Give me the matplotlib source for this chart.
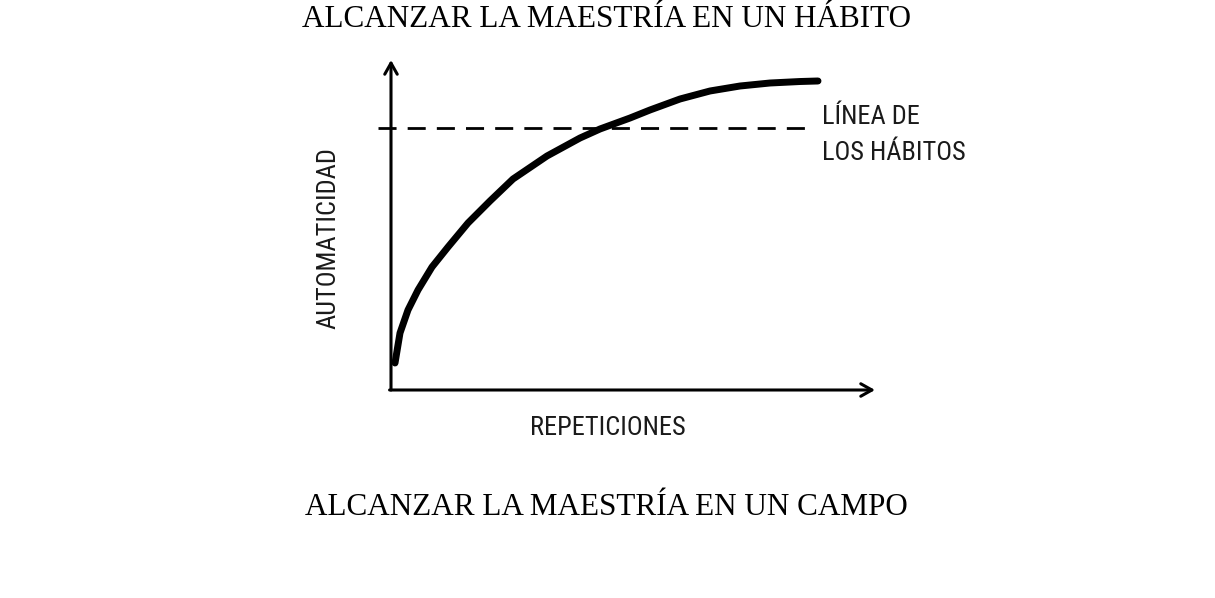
import matplotlib
matplotlib.use("Agg")
import matplotlib.pyplot as plt

# Data (axes units 0-100)
repeticiones = [0.83, 1.86, 3.51, 5.58, 8.47, 11.78, 15.91, 20.45, 25.21, 32.23,
                39.05, 43.18, 49.38, 53.51, 59.71, 65.91, 72.11, 78.31, 84.5, 88.22]
automaticidad = [8.18, 17.27, 24.24, 30.30, 37.27, 43.33, 50.61, 57.27, 63.94, 70.91,
                 76.36, 79.09, 82.42, 84.85, 88.18, 90.61, 92.12, 93.03, 93.48, 93.64]
linea_habitos = 79.4
linea_x = [-2.7, 85.5]

titulo_sup = "ALCANZAR LA MAESTRÍA EN UN HÁBITO"
titulo_inf = "ALCANZAR LA MAESTRÍA EN UN CAMPO"
etiqueta_x = "REPETICIONES"
etiqueta_y = "AUTOMATICIDAD"
etiqueta_linea = ["LÍNEA DE", "LOS HÁBITOS"]

W, H = 1215, 598
fig = plt.figure(figsize=(W / 100, H / 100), dpi=100)
fig.patch.set_facecolor("white")

ax = fig.add_axes([391 / W, (H - 390) / H, (875 - 391) / W, 330 / H])
ax.set_xlim(0, 100)
ax.set_ylim(0, 100)
ax.axis("off")

arrow = dict(arrowstyle="->,head_length=0.8,head_width=0.45", lw=2.2, color="black",
             shrinkA=0, shrinkB=0)
ax.annotate("", xy=(0, 100), xytext=(0, 0), arrowprops=arrow, annotation_clip=False)
ax.annotate("", xy=(100, 0), xytext=(-0.3, 0), arrowprops=arrow, annotation_clip=False)

ax.plot(linea_x, [linea_habitos, linea_habitos], color="black", lw=2.0,
        dashes=(6.5, 4), clip_on=False)
ax.plot(repeticiones, automaticidad, color="black", lw=5, solid_capstyle="round",
        solid_joinstyle="round", clip_on=False)

narrow = ["Roboto Condensed", "Sofia Sans Condensed", "Liberation Sans Narrow",
          "DejaVu Sans"]
serif = ["Liberation Serif", "DejaVu Serif"]
fs_lab = 19
lab_kw = dict(family=narrow, fontsize=fs_lab, fontweight="normal", color="#1a1a1a")

fig.text(822 / W, 1 - 117 / H, etiqueta_linea[0], ha="left", va="center", **lab_kw)
fig.text(822 / W, 1 - 153 / H, etiqueta_linea[1], ha="left", va="center", **lab_kw)
fig.text(608 / W, 1 - 428 / H, etiqueta_x, ha="center", va="center", **lab_kw)
fig.text(328 / W, 1 - 238 / H, etiqueta_y, ha="center", va="center", rotation=90,
         **lab_kw)

fig.text(606 / W, 1 - 27 / H, titulo_sup, family=serif, fontsize=22.4,
         ha="center", va="baseline", color="black")
fig.text(606 / W, 1 - 515 / H, titulo_inf, family=serif, fontsize=22.4,
         ha="center", va="baseline", color="black")

fig.savefig("out.png", dpi=100, facecolor="white")
